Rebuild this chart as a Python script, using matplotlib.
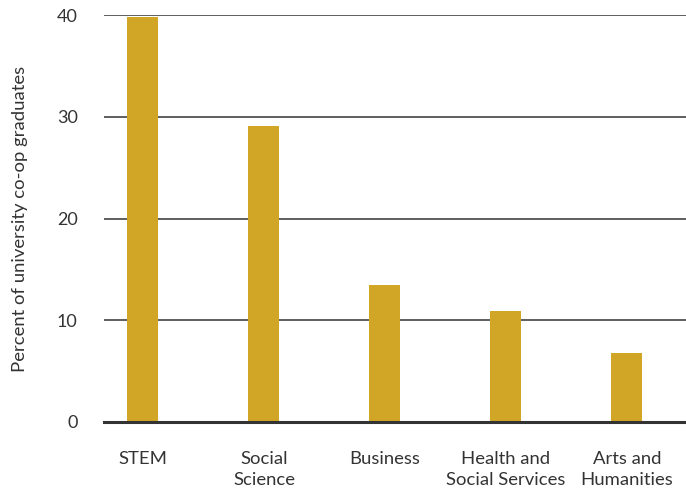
import matplotlib
matplotlib.use("Agg")
import matplotlib.pyplot as plt

categories = ["STEM", "Social\nScience", "Business", "Health and\nSocial Services", "Arts and\nHumanities"]
values = [39.8, 29.1, 13.5, 10.9, 6.8]
yticks = [0, 10, 20, 30, 40]

plt.rcParams['font.family'] = ['Lato', 'DejaVu Sans']
text_color = "#333333"

fig = plt.figure(figsize=(6.86, 4.9), dpi=100)
ax = fig.add_axes([0.1516, 0.1388, 0.8484, 0.8302])

x = list(range(len(categories)))
ax.bar(x, values, width=0.256, color="#D1A626", zorder=3)

ax.set_ylim(0, 40)
ax.set_xlim(-0.322, 4.488)
ax.set_yticks(yticks)
ax.set_yticklabels([str(v) for v in yticks])
ax.set_xticks(x)
ax.set_xticklabels(categories, linespacing=1.4)

for v in yticks[1:]:
    ax.axhline(v, color="#333333", linewidth=1.1, zorder=1)
ax.axhline(0, color="#333333", linewidth=2.2, zorder=4, clip_on=False)

for s in ax.spines.values():
    s.set_visible(False)

ax.tick_params(axis='y', length=0, pad=19, labelsize=13, labelcolor=text_color)
ax.tick_params(axis='x', length=0, pad=21, labelsize=13.3, labelcolor=text_color)

ax.set_ylabel("Percent of university co-op graduates", fontsize=13.3, color=text_color)
ax.yaxis.set_label_coords(-0.13, 0.5)

fig.savefig("out.png", dpi=100)
